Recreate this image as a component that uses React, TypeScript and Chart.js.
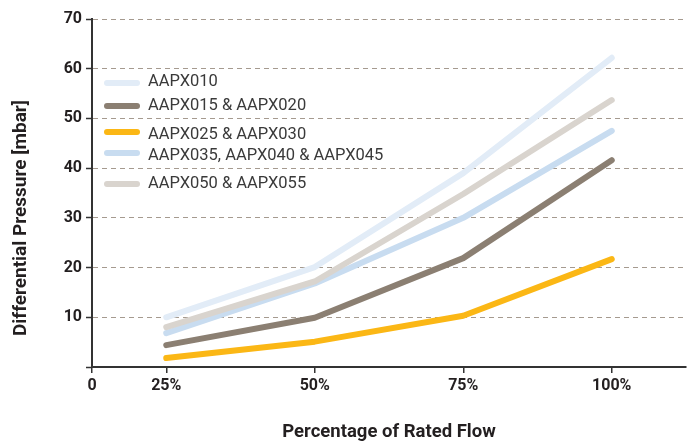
import React, { useEffect, useRef } from "react";
import { Chart, registerables } from "chart.js";

Chart.register(...registerables);

const categories = ["25%", "50%", "75%", "100%"];
const xTickLabels = ["0", "25%", "50%", "75%", "100%"];
const seriesNames = [
  "AAPX010",
  "AAPX015 & AAPX020",
  "AAPX025 & AAPX030",
  "AAPX035, AAPX040 & AAPX045",
  "AAPX050 & AAPX055",
];
const aapx010 = [10, 20.1, 39, 62.2];
const aapx015 = [4.4, 9.9, 21.9, 41.6];
const aapx025 = [1.8, 5.1, 10.3, 21.7];
const aapx035 = [6.8, 16.8, 30, 47.5];
const aapx050 = [8, 17.2, 34.8, 53.7];
const seriesValues = [aapx010, aapx015, aapx025, aapx035, aapx050];
const seriesColors = ["#e2ecf7", "#8b7f72", "#fbb715", "#c8dcf0", "#d9d4ce"];
const seriesOrder = [3, 0, 0, 2, 1];

const FONT = "Roboto, 'DejaVu Sans', sans-serif";
const DARK = "#231f20";

const legendLineY = [83, 106, 132, 153, 184];
const legendTextY = [82, 106, 135, 156, 184];

const customPlugin = {
  id: "customDecor",
  afterDraw(chart: any) {
    const ctx = chart.ctx;
    ctx.save();
    // y-axis title
    ctx.translate(21, 218);
    ctx.rotate(-Math.PI / 2);
    ctx.font = `bold 19px ${FONT}`;
    ctx.fillStyle = DARK;
    ctx.textAlign = "center";
    ctx.textBaseline = "middle";
    ctx.fillText("Differential Pressure [mbar]", 0, 0);
    ctx.restore();

    // legend
    ctx.save();
    chart.data.datasets.forEach((ds: any, i: number) => {
      ctx.strokeStyle = ds.borderColor;
      ctx.lineWidth = 6;
      ctx.lineCap = "round";
      ctx.beginPath();
      ctx.moveTo(107, legendLineY[i]);
      ctx.lineTo(137, legendLineY[i]);
      ctx.stroke();
      ctx.font = `16.5px ${FONT}`;
      ctx.fillStyle = "#3a3a3a";
      ctx.textAlign = "left";
      ctx.textBaseline = "middle";
      ctx.fillText(ds.label, 148, legendTextY[i]);
    });
    ctx.restore();
  },
};

export default function App() {
  const canvasRef = useRef<HTMLCanvasElement | null>(null);

  useEffect(() => {
    document.body.style.margin = "0";
    const canvas = canvasRef.current;
    if (!canvas) return;
    const datasets = seriesNames.map((name, i) => ({
      label: name,
      data: seriesValues[i].map((v, j) => ({ x: j + 0.5, y: v, c: categories[j] })),
      borderColor: seriesColors[i],
      backgroundColor: seriesColors[i],
      borderWidth: 6,
      borderCapStyle: "round" as const,
      borderJoinStyle: "round" as const,
      pointRadius: 0,
      tension: 0,
      fill: false,
      order: seriesOrder[i],
    }));
    const chart = new Chart(canvas, {
      type: "line",
      data: { datasets },
      plugins: [customPlugin],
      options: {
        animation: false,
        responsive: true,
        maintainAspectRatio: false,
        layout: { padding: { top: 19, right: 11, bottom: 0, left: 0 } },
        plugins: {
          legend: { display: false },
          tooltip: { enabled: false },
        },
        scales: {
          x: {
            type: "linear",
            min: 0,
            max: 4,
            afterBuildTicks: (scale: any) => {
              scale.ticks = [0, 0.5, 1.5, 2.5, 3.5].map((v) => ({ value: v }));
            },
            afterFit: (scale: any) => {
              scale.height = 76;
            },
            ticks: {
              autoSkip: false,
              maxRotation: 0,
              padding: 3,
              color: DARK,
              font: { family: FONT, size: 16, weight: "bold" },
              callback: (_v: any, idx: number) => xTickLabels[idx],
            },
            grid: {
              drawOnChartArea: false,
              drawTicks: true,
              tickLength: 6,
              color: "#333",
              lineWidth: 1.5,
            },
            border: { display: true, color: "#333", width: 2 },
            title: {
              display: true,
              text: "Percentage of Rated Flow",
              color: DARK,
              font: { family: FONT, size: 18.5, weight: "bold" },
              padding: { top: 4, bottom: 0 },
            },
          },
          y: {
            min: 0,
            max: 70,
            afterFit: (scale: any) => {
              scale.width = 92;
            },
            ticks: {
              stepSize: 10,
              padding: 4,
              color: DARK,
              font: { family: FONT, size: 16, weight: "bold" },
              callback: (v: any) => (v === 0 ? "" : String(v)),
            },
            grid: {
              drawTicks: true,
              tickLength: 6,
              lineWidth: 1,
              color: (c: any) => (c.tick && c.tick.value === 0 ? "rgba(0,0,0,0)" : "#a59a8f"),
              tickColor: "#333",
              tickWidth: 1.5,
            },
            border: { display: true, color: "#333", width: 2, dash: [5, 4] },
          },
        },
      },
    });
    return () => chart.destroy();
  }, []);

  return (
    <div style={{ width: 697, height: 443, position: "relative" }}>
      <canvas ref={canvasRef} />
    </div>
  );
}
